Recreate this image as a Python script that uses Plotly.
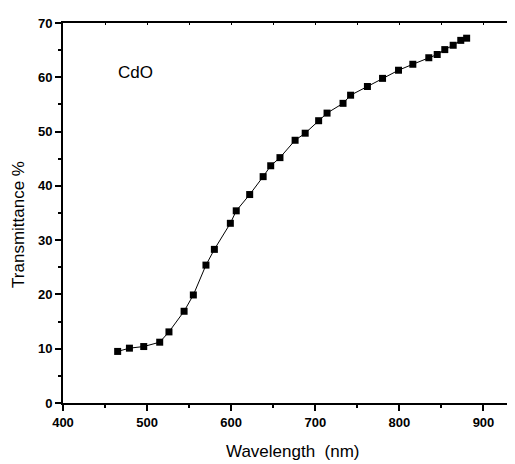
import plotly.graph_objects as go

wavelength = [465, 479, 496, 515, 526, 544, 555, 570, 580, 599, 606, 622, 638, 647, 658,
              676, 688, 704, 714, 733, 742, 762, 780, 799, 816, 835, 845, 854, 864, 873, 880]
transmittance = [9.5, 10.1, 10.4, 11.2, 13.1, 16.9, 19.9, 25.4, 28.3, 33.1, 35.4, 38.4, 41.7, 43.7, 45.2,
                 48.4, 49.7, 52.0, 53.4, 55.2, 56.7, 58.3, 59.8, 61.3, 62.4, 63.6, 64.2, 65.1, 65.9, 66.8, 67.2]
x_ticks = [400, 500, 600, 700, 800, 900]
y_ticks = [0, 10, 20, 30, 40, 50, 60, 70]

FONT = "Liberation Sans, Arial, sans-serif"

fig = go.Figure()
fig.add_trace(go.Scatter(
    x=wavelength, y=transmittance, mode="lines+markers",
    line=dict(color="black", width=1),
    marker=dict(symbol="square", size=7, color="black"),
    showlegend=False,
))
# invisible trace to activate top mirrored axis
fig.add_trace(go.Scatter(x=[wavelength[0]], y=[transmittance[0]], xaxis="x2",
                         mode="markers", marker=dict(opacity=0), showlegend=False,
                         hoverinfo="skip"))

fig.update_layout(
    width=515, height=464,
    margin=dict(l=55, r=8, t=9, b=69),
    paper_bgcolor="white", plot_bgcolor="white",
    font=dict(family=FONT, color="black"),
    xaxis=dict(
        range=[400, 937.5], tickvals=x_ticks, ticks="outside", ticklen=6, tickwidth=1.5,
        tickcolor="black", showline=True, linewidth=2, linecolor="black",
        showgrid=False, zeroline=False,
        tickfont=dict(family=FONT, size=13, color="black", weight="bold"),
        minor=dict(dtick=50, tick0=400, ticks="outside", ticklen=3, tickwidth=1.5, tickcolor="black"),
    ),
    xaxis2=dict(
        overlaying="x", side="top", range=[400, 937.5], tickvals=x_ticks + [450, 550, 650, 750, 850],
        ticks="inside", ticklen=2, tickwidth=1, tickcolor="black", showticklabels=False,
        showline=True, linewidth=2, linecolor="black", showgrid=False, zeroline=False,
    ),
    yaxis=dict(
        range=[0, 70], tickvals=y_ticks, ticks="outside", ticklen=6, tickwidth=1.5,
        tickcolor="black", showline=True, linewidth=2, linecolor="black",
        showgrid=False, zeroline=False,
        tickfont=dict(family=FONT, size=13, color="black", weight="bold"),
        minor=dict(dtick=5, tick0=0, ticks="outside", ticklen=3, tickwidth=1.5, tickcolor="black"),
    ),
    annotations=[
        dict(text="Wavelength  (nm)", xref="paper", yref="paper", x=0.509, y=-0.127,
             xanchor="center", yanchor="middle", showarrow=False,
             font=dict(family=FONT, size=17, color="black")),
        dict(text="Transmittance %", xref="paper", yref="paper", x=-0.097, y=0.469,
             xanchor="center", yanchor="middle", textangle=-90, showarrow=False,
             font=dict(family=FONT, size=17, color="black")),
        dict(text="CdO", xref="x", yref="y", x=486.6, y=60.9,
             xanchor="center", yanchor="middle", showarrow=False,
             font=dict(family=FONT, size=17, color="black")),
    ],
)

fig.write_html("out.html")
